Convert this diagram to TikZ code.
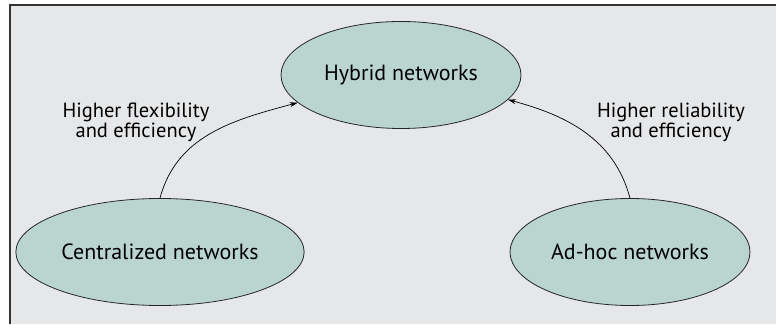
\documentclass[tikz,border=0pt]{standalone}
\usepackage{fontspec}
\setmainfont{PT Sans}
\usepackage{tikz}
\usetikzlibrary{positioning,shapes.geometric,arrows.meta}
\definecolor{panelgray}{HTML}{E6E7E9}
\definecolor{netfill}{HTML}{BAD5D0}
\definecolor{framegray}{HTML}{333333}
\tikzset{
  netnode/.style={ellipse,draw=black!85,fill=netfill,line width=0.8pt,minimum width=240pt,minimum height=107pt,font=\fontsize{22}{24}\selectfont},
  gainlabel/.style={align=center,font=\fontsize{20.5}{20}\selectfont}
}
\begin{document}
\begin{tikzpicture}[x=1pt,y=1pt]
\useasboundingbox (0,0) rectangle (776,324);
\fill[panelgray] (10,0) rectangle (776,319);
\draw[framegray,line width=1.2pt] (10,0) -- (10,319) -- (776,319);

\foreach \name/\x/\y/\label in {hyb/401/249/Hybrid networks, cent/160/72/Centralized networks, adhoc/630/72/Ad-hoc networks} {
    \node[netnode] (\name) at (\x,\y) {\label};
}

\draw[-{Stealth[length=8pt,width=5pt]},line width=0.7pt] (cent.north) to[out=75,in=195] (hyb.195);
\draw[-{Stealth[length=8pt,width=5pt]},line width=0.7pt] (adhoc.north) to[out=105,in=-15] (hyb.347);

\node[gainlabel] (flex) at (136,202) {Higher flexibility\\and efficiency};
\node[gainlabel] (rel) at (671,202) {Higher reliability\\and efficiency};
\end{tikzpicture}
\end{document}
